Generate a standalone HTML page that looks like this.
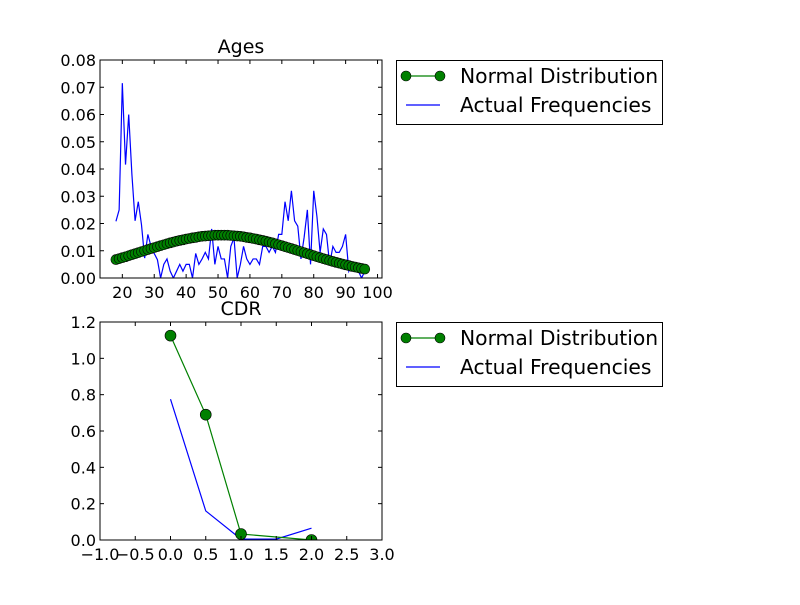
<!DOCTYPE html>
<html><head><meta charset="utf-8"><style>
body{margin:0;background:#fff;}
svg text{font-family:"DejaVu Sans","Liberation Sans",sans-serif;fill:#000;}
</style></head><body>
<svg id="c" width="800" height="600" xmlns="http://www.w3.org/2000/svg"></svg>
<script>
const ageCats=[18,19,20,21,22,23,24,25,26,27,28,29,30,31,32,33,34,35,36,37,38,39,40,41,42,43,44,45,46,47,48,49,50,51,52,53,54,55,56,57,58,59,60,61,62,63,64,65,66,67,68,69,70,71,72,73,74,75,76,77,78,79,80,81,82,83,84,85,86,87,88,89,90,91,92,93,94,95,96];
const ageActual=[0.0208,0.025,0.0715,0.0416,0.060,0.038,0.021,0.028,0.0196,0.0073,0.016,0.0116,0.009,0.0067,0,0.005,0.007,0.0025,0,0.0025,0.005,0.0025,0.005,0.005,0,0.009,0.005,0.007,0.0094,0.007,0.018,0.005,0.0116,0.007,0.007,0,0.0116,0.0147,0,0.005,0.0116,0.007,0.005,0.007,0.007,0.005,0.0116,0.0116,0.0094,0.0116,0.0094,0.016,0.016,0.028,0.021,0.032,0.021,0.019,0.007,0.015,0.025,0.005,0.032,0.0226,0.0094,0.018,0.016,0.005,0.0116,0.0094,0.0094,0.0116,0.016,0.0025,0.005,0.0025,0.0025,0,0.0025];
const ageNormal=[0.00675,0.0071,0.00745,0.0078,0.00818,0.00855,0.00892,0.0093,0.00968,0.01005,0.01042,0.0108,0.01115,0.0115,0.01187,0.0122,0.01255,0.0129,0.01319,0.0135,0.01377,0.014,0.01429,0.0145,0.01474,0.0149,0.01512,0.0153,0.0154,0.0155,0.0156,0.0157,0.0157,0.0157,0.0157,0.0157,0.0156,0.0155,0.0154,0.0153,0.01512,0.0149,0.01474,0.0145,0.01429,0.014,0.01377,0.0135,0.01319,0.0129,0.01255,0.0122,0.01187,0.0115,0.01115,0.0108,0.01042,0.01005,0.00968,0.0093,0.00892,0.00855,0.00818,0.0078,0.00745,0.0071,0.00675,0.0064,0.00607,0.00575,0.00543,0.00513,0.00483,0.00455,0.00426,0.004,0.00375,0.0035,0.00327];
const ageXTicks=[20,30,40,50,60,70,80,90,100];
const ageYTicks=[0,0.01,0.02,0.03,0.04,0.05,0.06,0.07,0.08];
const cdrNormX=[0,0.5,1,2];
const cdrNormY=[1.125,0.69,0.033,0.0];
const cdrActX=[0,0.5,1,1.5,2];
const cdrActY=[0.775,0.16,0.005,0.005,0.065];
const cdrXTicks=[-1,-0.5,0,0.5,1,1.5,2,2.5,3];
const cdrYTicks=[0,0.2,0.4,0.6,0.8,1.0,1.2];

const svg=document.getElementById('c');
const NS='http://www.w3.org/2000/svg';
function mk(tag,attrs,parent){const e=document.createElementNS(NS,tag);for(const k in attrs)e.setAttribute(k,attrs[k]);(parent||svg).appendChild(e);return e;}

function axes(o){
  const g=mk('g',{});
  
  
  const sx=v=>o.x0+(v-o.xmin)/(o.xmax-o.xmin)*(o.x1-o.x0);
  const sy=v=>o.y1-(v-o.ymin)/(o.ymax-o.ymin)*(o.y1-o.y0);
  const cid='clip'+o.name;
  const cp=mk('clipPath',{id:cid},g);mk('rect',{x:o.x0,y:o.y0,width:o.x1-o.x0,height:o.y1-o.y0},cp);
  const plot=mk('g',{'clip-path':'url(#'+cid+')'},g);
  const pa=mk('polyline',{points:o.ax.map((v,i)=>sx(v)+','+sy(o.ay[i])).join(' '),fill:'none',stroke:'#0000ff','stroke-width':1.2},plot);
  
  
  const pn=mk('polyline',{points:o.nx.map((v,i)=>sx(v)+','+sy(o.ny[i])).join(' '),fill:'none',stroke:'#008000','stroke-width':1.2},plot);
  
  
  o.nx.forEach((v,i)=>{
    const c=mk('circle',{cx:sx(v),cy:sy(o.ny[i]),r:o.r,fill:'#008000',stroke:'#000','stroke-width':0.6},plot);
    
    
  });
  mk('rect',{x:o.x0,y:o.y0,width:o.x1-o.x0,height:o.y1-o.y0,fill:'none',stroke:'#000','stroke-width':1},g);
  o.xt.forEach((t,i)=>{
    const x=sx(t);
    mk('line',{x1:x,x2:x,y1:o.y1,y2:o.y1-4,stroke:'#000'},g);
    mk('line',{x1:x,x2:x,y1:o.y0,y2:o.y0+4,stroke:'#000'},g);
    const tx=mk('text',{x:x,y:o.y1+20,'text-anchor':'middle','font-size':16},g);
    tx.textContent=o.xl(t);
    
    
  });
  o.yt.forEach(t=>{
    const y=sy(t);
    mk('line',{x1:o.x0,x2:o.x0+4,y1:y,y2:y,stroke:'#000'},g);
    mk('line',{x1:o.x1,x2:o.x1-4,y1:y,y2:y,stroke:'#000'},g);
    const tx=mk('text',{x:o.x0-4,y:y+6,'text-anchor':'end','font-size':16},g);
    tx.textContent=o.yl(t);
    
    
  });
  const ti=mk('text',{x:(o.x0+o.x1)/2,y:o.y0-7,'text-anchor':'middle','font-size':19},g);
  ti.textContent=o.title;
  
  
  const lg=mk('g',{},g);
  
  
  const ly=o.y0;
  mk('rect',{x:396.5,y:ly+0.5,width:266,height:64,fill:'#fff',stroke:'#000'},lg);
  mk('line',{x1:406,x2:440,y1:ly+16,y2:ly+16,stroke:'#008000','stroke-width':1.2},lg);
  mk('circle',{cx:406,cy:ly+16,r:5,fill:'#008000',stroke:'#000','stroke-width':0.6},lg);
  mk('circle',{cx:440,cy:ly+16,r:5,fill:'#008000',stroke:'#000','stroke-width':0.6},lg);
  const t1=mk('text',{x:460,y:ly+23,'font-size':20.3},lg);t1.textContent='Normal Distribution';
  
  
  mk('line',{x1:406,x2:440,y1:ly+45,y2:ly+45,stroke:'#0000ff','stroke-width':1.2},lg);
  const t2=mk('text',{x:460,y:ly+52,'font-size':20.3},lg);t2.textContent='Actual Frequencies';
  
  
}
axes({name:'ages-chart',title:'Ages',x0:100,x1:382,y0:60,y1:278,xmin:13,xmax:101.4,ymin:0,ymax:0.08,
  ax:ageCats,ay:ageActual,nx:ageCats,ny:ageNormal,r:5,xt:ageXTicks,yt:ageYTicks,
  xl:t=>String(t),yl:t=>t.toFixed(2)});
axes({name:'cdr-chart',title:'CDR',x0:100,x1:382,y0:322,y1:540,xmin:-1,xmax:3,ymin:0,ymax:1.2,
  ax:cdrActX,ay:cdrActY,nx:cdrNormX,ny:cdrNormY,r:5.5,xt:cdrXTicks,yt:cdrYTicks,
  xl:t=>t<0?'\u2212'+Math.abs(t).toFixed(1):t.toFixed(1),yl:t=>t.toFixed(1)});
</script>
</body></html>
